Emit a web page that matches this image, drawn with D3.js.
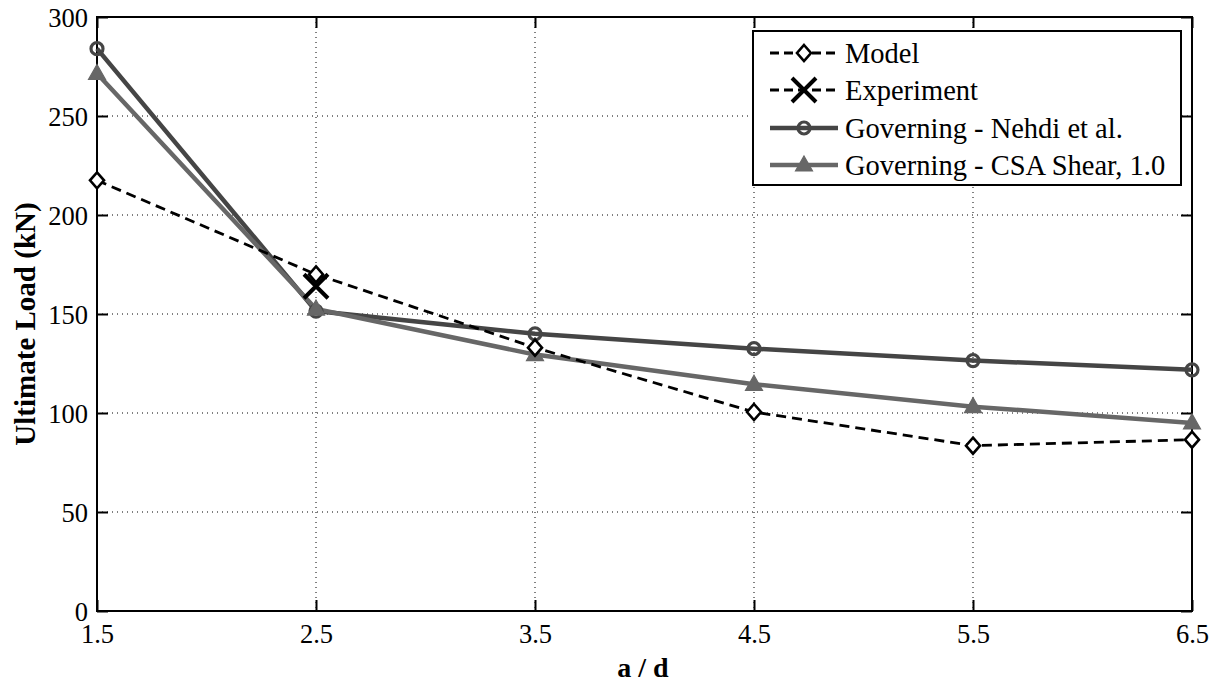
<!DOCTYPE html>
<html>
<head>
<meta charset="utf-8">
<script src="https://cdn.jsdelivr.net/npm/d3@7"></script>
<style>
  body { margin: 0; background: #fff; }
  svg { display: block; font-family: "Liberation Serif", "DejaVu Serif", serif; }
</style>
</head>
<body>
<svg id="chart" width="1220" height="685"></svg>
<script>
// a/d ratios along the x axis
const ratios = [1.5, 2.5, 3.5, 4.5, 5.5, 6.5];
// Ultimate load (kN) per series
const modelLoads = [217.5, 170, 133, 100.5, 83.5, 86.5];
const experimentRatios = [2.5];
const experimentLoads = [164];
const nehdiLoads = [284, 151.5, 140, 132.5, 126.5, 121.8];
const csaLoads = [271.5, 152.5, 129.5, 114.5, 103.2, 95];
// Tick values
const xTicks = [1.5, 2.5, 3.5, 4.5, 5.5, 6.5];
const yTicks = [0, 50, 100, 150, 200, 250, 300];
const legendLabels = ["Model", "Experiment", "Governing - Nehdi et al.", "Governing - CSA Shear, 1.0"];

const FONT = "'Liberation Serif', 'DejaVu Serif', serif";
const svg = d3.select("#chart");
const m = { left: 97, right: 1192, top: 17, bottom: 611 };

const x = d3.scaleLinear().domain([1.5, 6.5]).range([m.left, m.right]);
const y = d3.scaleLinear().domain([0, 300]).range([m.bottom, m.top]);

const nehdiColor = "#454545";
const csaColor = "#676767";

// Dotted grid
const grid = svg.append("g");
xTicks.slice(1, -1).forEach(t => {
  grid.append("line").attr("x1", x(t)).attr("x2", x(t)).attr("y1", m.top).attr("y2", m.bottom)
    .attr("stroke", "#000").attr("stroke-width", 1).attr("stroke-dasharray", "1,4");
});
yTicks.slice(1, -1).forEach(t => {
  grid.append("line").attr("x1", m.left).attr("x2", m.right).attr("y1", y(t)).attr("y2", y(t))
    .attr("stroke", "#000").attr("stroke-width", 1).attr("stroke-dasharray", "1,4");
});

// Axes with inward ticks on all four sides
const tickLen = 11;
const xAxisB = d3.axisBottom(x).tickValues(xTicks).tickSizeInner(-tickLen).tickSizeOuter(0).tickFormat(d3.format(".1f"));
const xAxisT = d3.axisTop(x).tickValues(xTicks).tickSizeInner(-tickLen).tickSizeOuter(0).tickFormat("");
const yAxisL = d3.axisLeft(y).tickValues(yTicks).tickSizeInner(-tickLen).tickSizeOuter(0).tickFormat(d3.format("d"));
const yAxisR = d3.axisRight(y).tickValues(yTicks).tickSizeInner(-tickLen).tickSizeOuter(0).tickFormat("");

function styleAxis(g) {
  g.attr("font-family", null).attr("font-size", null);
  g.select(".domain").remove();
  g.selectAll(".tick line").attr("stroke", "#000").attr("stroke-width", 2);
  g.selectAll("text").attr("fill", "#000").style("font-size", "26.5px").style("font-family", FONT);
}
svg.append("g").attr("transform", `translate(0,${m.bottom})`).call(xAxisB).call(styleAxis)
  .selectAll("text").attr("y", 32).attr("dy", 0);
svg.append("g").attr("transform", `translate(0,${m.top})`).call(xAxisT).call(styleAxis);
svg.append("g").attr("transform", `translate(${m.left},0)`).call(yAxisL).call(styleAxis)
  .selectAll("text").attr("x", -9).attr("dy", "0.35em");
svg.append("g").attr("transform", `translate(${m.right},0)`).call(yAxisR).call(styleAxis);

// Axes box
svg.append("rect").attr("x", m.left).attr("y", m.top)
  .attr("width", m.right - m.left).attr("height", m.bottom - m.top)
  .attr("fill", "none").attr("stroke", "#000").attr("stroke-width", 2);

// Axis titles
svg.append("text").attr("x", 643).attr("y", 677)
  .attr("text-anchor", "middle").style("font-size", "28px").style("font-family", FONT)
  .attr("font-weight", "bold").text("a / d");
svg.append("text").attr("transform", `translate(35,324) rotate(-90)`)
  .attr("text-anchor", "middle").style("font-size", "29px").style("font-family", FONT)
  .attr("font-weight", "bold").text("Ultimate Load (kN)");

const line = d3.line().x(d => x(d[0])).y(d => y(d[1]));
const plot = svg.append("g");

// Series as [ratio, load] pairs
const nehdi = ratios.map((r, i) => [r, nehdiLoads[i]]);
const csa = ratios.map((r, i) => [r, csaLoads[i]]);
const model = ratios.map((r, i) => [r, modelLoads[i]]);
const exper = experimentRatios.map((r, i) => [r, experimentLoads[i]]);

plot.append("path").datum(nehdi).attr("d", line).attr("fill", "none")
  .attr("stroke", nehdiColor).attr("stroke-width", 4.5);
plot.append("path").datum(csa).attr("d", line).attr("fill", "none")
  .attr("stroke", csaColor).attr("stroke-width", 4.5);
plot.append("path").datum(model).attr("d", line).attr("fill", "none")
  .attr("stroke", "#000").attr("stroke-width", 2.8).attr("stroke-dasharray", "10,6");

// Marker shapes
function circleMark(g, cx, cy) {
  g.append("circle").attr("cx", cx).attr("cy", cy).attr("r", 6)
    .attr("fill", "none").attr("stroke", nehdiColor).attr("stroke-width", 3.2);
}
function triMark(g, cx, cy) {
  g.append("path").attr("d", `M${cx},${cy - 9}L${cx + 8.5},${cy + 6}L${cx - 8.5},${cy + 6}Z`)
    .attr("fill", csaColor).attr("stroke", csaColor).attr("stroke-width", 1.2);
}
function diamondMark(g, cx, cy) {
  g.append("path").attr("d", `M${cx},${cy - 8}L${cx + 7},${cy}L${cx},${cy + 8}L${cx - 7},${cy}Z`)
    .attr("fill", "#fff").attr("stroke", "#000").attr("stroke-width", 2.6);
}
function crossMark(g, cx, cy) {
  const s = 12;
  g.append("path").attr("d", `M${cx - s},${cy - s}L${cx + s},${cy + s}M${cx - s},${cy + s}L${cx + s},${cy - s}`)
    .attr("stroke", "#000").attr("stroke-width", 4).attr("fill", "none");
}

nehdi.forEach(d => circleMark(plot, x(d[0]), y(d[1])));
csa.forEach(d => triMark(plot, x(d[0]), y(d[1])));
model.forEach(d => diamondMark(plot, x(d[0]), y(d[1])));
exper.forEach(d => crossMark(plot, x(d[0]), y(d[1])));

// Legend
const lg = svg.append("g");
const lx0 = 753, ly0 = 31, lw = 428, lh = 154;
lg.append("rect").attr("x", lx0).attr("y", ly0).attr("width", lw).attr("height", lh)
  .attr("fill", "#fff").attr("stroke", "#000").attr("stroke-width", 2);
const rowY = [53, 90, 128, 165];
const sx1 = 770, sx2 = 838, sxm = (sx1 + sx2) / 2;
legendLabels.forEach((lab, i) => {
  const yy = rowY[i];
  const seg = lg.append("line").attr("x1", sx1).attr("x2", sx2).attr("y1", yy).attr("y2", yy);
  if (i < 2) seg.attr("stroke", "#000").attr("stroke-width", 3).attr("stroke-dasharray", "9,5");
  else if (i === 2) seg.attr("stroke", nehdiColor).attr("stroke-width", 4.5);
  else seg.attr("stroke", csaColor).attr("stroke-width", 4.5);
  if (i === 0) diamondMark(lg, sxm, yy);
  else if (i === 1) crossMark(lg, sxm, yy);
  else if (i === 2) circleMark(lg, sxm, yy);
  else triMark(lg, sxm, yy);
  lg.append("text").attr("x", 845).attr("y", yy).attr("dy", "0.35em")
    .style("font-size", "28.5px").style("font-family", FONT).attr("fill", "#000").text(lab);
});
</script>
</body>
</html>
